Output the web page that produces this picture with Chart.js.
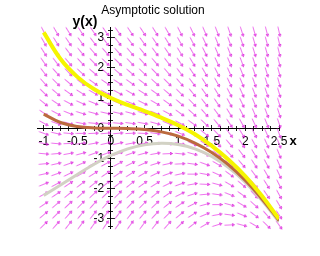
<!DOCTYPE html>
<html>
<head>
<meta charset="utf-8">
<script src="https://cdn.jsdelivr.net/npm/chart.js@4.4.1/dist/chart.umd.min.js"></script>
<style>
  html, body { margin: 0; padding: 0; background: #ffffff; }
  #wrap { width: 320px; height: 256px; }
</style>
</head>
<body>
<div id="wrap"><canvas id="dfield" width="320" height="256"></canvas></div>
<script>
// grid of the direction field (20 x 20)
const fieldX = [-1, -0.816, -0.632, -0.447, -0.263, -0.079, 0.105, 0.289, 0.474, 0.658,
  0.842, 1.026, 1.211, 1.395, 1.579, 1.763, 1.947, 2.132, 2.316, 2.5];
const fieldY = [3.2, 2.863, 2.526, 2.189, 1.853, 1.516, 1.179, 0.842, 0.505, 0.168,
  -0.168, -0.505, -0.842, -1.179, -1.516, -1.853, -2.189, -2.526, -2.863, -3.2];

// slope dy/dx of each arrow, one row per fieldY value
const fieldSlope = [
  [-4.2, -3.9, -3.6, -3.4, -3.3, -3.2, -3.2, -3.3, -3.4, -3.6, -3.9, -4.3, -4.7, -5.2, -5.7, -6.3, -7.0, -7.7, -8.6, -9.5],
  [-3.9, -3.5, -3.3, -3.1, -2.9, -2.9, -2.9, -2.9, -3.1, -3.3, -3.6, -3.9, -4.3, -4.8, -5.4, -6.0, -6.7, -7.4, -8.2, -9.1],
  [-3.5, -3.2, -2.9, -2.7, -2.6, -2.5, -2.5, -2.6, -2.7, -3.0, -3.2, -3.6, -4.0, -4.5, -5.0, -5.6, -6.3, -7.1, -7.9, -8.8],
  [-3.2, -2.9, -2.6, -2.4, -2.3, -2.2, -2.2, -2.3, -2.4, -2.6, -2.9, -3.2, -3.7, -4.1, -4.7, -5.3, -6.0, -6.7, -7.6, -8.4],
  [-2.9, -2.5, -2.3, -2.1, -1.9, -1.9, -1.9, -1.9, -2.1, -2.3, -2.6, -2.9, -3.3, -3.8, -4.3, -5.0, -5.6, -6.4, -7.2, -8.1],
  [-2.5, -2.2, -1.9, -1.7, -1.6, -1.5, -1.5, -1.6, -1.7, -2.0, -2.2, -2.6, -3.0, -3.5, -4.0, -4.6, -5.3, -6.1, -6.9, -7.8],
  [-2.2, -1.9, -1.6, -1.4, -1.3, -1.2, -1.2, -1.3, -1.4, -1.6, -1.9, -2.2, -2.7, -3.1, -3.7, -4.3, -5.0, -5.7, -6.5, -7.4],
  [-1.8, -1.5, -1.2, -1.0, -0.9, -0.9, -0.9, -0.9, -1.1, -1.3, -1.6, -1.9, -2.3, -2.8, -3.3, -4.0, -4.6, -5.4, -6.2, -7.1],
  [-1.5, -1.2, -0.9, -0.7, -0.6, -0.5, -0.5, -0.6, -0.7, -0.9, -1.2, -1.6, -2.0, -2.5, -3.0, -3.6, -4.3, -5.1, -5.9, -6.8],
  [-1.2, -0.8, -0.6, -0.4, -0.2, -0.2, -0.2, -0.3, -0.4, -0.6, -0.9, -1.2, -1.6, -2.1, -2.7, -3.3, -4.0, -4.7, -5.5, -6.4],
  [-0.8, -0.5, -0.2, 0.0, 0.1, 0.2, 0.2, 0.1, -0.1, -0.3, -0.5, -0.9, -1.3, -1.8, -2.3, -2.9, -3.6, -4.4, -5.2, -6.1],
  [-0.5, -0.2, 0.1, 0.3, 0.4, 0.5, 0.5, 0.4, 0.3, 0.1, -0.2, -0.5, -1.0, -1.4, -2.0, -2.6, -3.3, -4.0, -4.9, -5.7],
  [-0.2, 0.2, 0.4, 0.6, 0.8, 0.8, 0.8, 0.8, 0.6, 0.4, 0.1, -0.2, -0.6, -1.1, -1.6, -2.3, -2.9, -3.7, -4.5, -5.4],
  [0.2, 0.5, 0.8, 1.0, 1.1, 1.2, 1.2, 1.1, 1.0, 0.7, 0.5, 0.1, -0.3, -0.8, -1.3, -1.9, -2.6, -3.4, -4.2, -5.1],
  [0.5, 0.8, 1.1, 1.3, 1.4, 1.5, 1.5, 1.4, 1.3, 1.1, 0.8, 0.5, 0.0, -0.4, -1.0, -1.6, -2.3, -3.0, -3.8, -4.7],
  [0.9, 1.2, 1.5, 1.7, 1.8, 1.8, 1.8, 1.8, 1.6, 1.4, 1.1, 0.8, 0.4, -0.1, -0.6, -1.3, -1.9, -2.7, -3.5, -4.4],
  [1.2, 1.5, 1.8, 2.0, 2.1, 2.2, 2.2, 2.1, 2.0, 1.8, 1.5, 1.1, 0.7, 0.2, -0.3, -0.9, -1.6, -2.4, -3.2, -4.1],
  [1.5, 1.9, 2.1, 2.3, 2.5, 2.5, 2.5, 2.4, 2.3, 2.1, 1.8, 1.5, 1.1, 0.6, 0.0, -0.6, -1.3, -2.0, -2.8, -3.7],
  [1.9, 2.2, 2.5, 2.7, 2.8, 2.9, 2.9, 2.8, 2.6, 2.4, 2.2, 1.8, 1.4, 0.9, 0.4, -0.3, -0.9, -1.7, -2.5, -3.4],
  [2.2, 2.5, 2.8, 3.0, 3.1, 3.2, 3.2, 3.1, 3.0, 2.8, 2.5, 2.2, 1.7, 1.3, 0.7, 0.1, -0.6, -1.3, -2.2, -3.1]
];

// solution curves
const curveX = [-1, -0.75, -0.5, -0.25, 0, 0.25, 0.5, 0.75, 1, 1.25, 1.5, 1.75, 2, 2.25, 2.5];
const yellowY = [3.17, 2.29, 1.70, 1.29, 1.0, 0.77, 0.57, 0.35, 0.10, -0.20, -0.58, -1.04, -1.59, -2.25, -3.0];
const brownY = [0.47, 0.19, 0.06, 0.01, 0.0, -0.01, -0.04, -0.12, -0.26, -0.49, -0.80, -1.21, -1.73, -2.35, -3.05];
const grayY = [-2.22, -1.88, -1.53, -1.19, -0.9, -0.68, -0.55, -0.5, -0.54, -0.68, -0.93, -1.3, -1.79, -2.4, -3.1];

// tick labels
const xLabels = [-1, -0.5, 0, 0.5, 1, 1.5, 2, 2.5];
const yLabels = [-3, -2, -1, 0, 1, 2, 3];

// small arrow used as point style
function makeArrow() {
  const c = document.createElement("canvas");
  c.width = 11;
  c.height = 5;
  const g = c.getContext("2d");
  g.lineWidth = 1;
  g.strokeStyle = "rgba(232, 70, 232, 0.75)";
  g.beginPath();
  g.moveTo(0.5, 2.5);
  g.lineTo(9.5, 2.5);
  g.stroke();
  g.strokeStyle = "rgba(215, 20, 215, 0.9)";
  g.beginPath();
  g.moveTo(8, 1.3);
  g.lineTo(10.5, 2.5);
  g.lineTo(8, 3.7);
  g.stroke();
  return c;
}
const arrow = makeArrow();

const arrowPoints = [];
fieldY.forEach((y, j) => {
  fieldX.forEach((x, i) => {
    arrowPoints.push({ x: x, y: y, s: fieldSlope[j][i] });
  });
});

const toPts = (ys) => curveX.map((x, i) => ({ x: x, y: ys[i] }));

const tickFont = { family: "'Liberation Sans', Arial, sans-serif", size: 12 };

function axisX(step, len, labels) {
  return {
    type: "linear",
    axis: "x",
    min: -1.1,
    max: 2.5,
    position: { y: 0 },
    border: { display: labels, color: "#000000", width: 1 },
    grid: { drawOnChartArea: false, drawTicks: true, tickLength: len, tickColor: "#222222" },
    ticks: {
      stepSize: step,
      includeBounds: false,
      autoSkip: false,
      maxRotation: 0,
      padding: 4,
      color: "#000000",
      font: tickFont,
      callback: (v) => (labels && xLabels.some((t) => Math.abs(t - v) < 1e-6) ? String(v) : ""),
    },
  };
}

function axisY(step, len, labels) {
  return {
    type: "linear",
    axis: "y",
    min: -3.3,
    max: 3.35,
    position: { x: 0 },
    border: { display: labels, color: "#000000", width: 1 },
    grid: { drawOnChartArea: false, drawTicks: true, tickLength: len, tickColor: "#222222" },
    ticks: {
      stepSize: step,
      includeBounds: false,
      autoSkip: false,
      padding: 4,
      color: "#000000",
      font: tickFont,
      // labels of a centred y axis are not pushed off the line, so pad them
      callback: (v) => (labels && yLabels.some((t) => Math.abs(t - v) < 1e-6) ? String(v) + "  " : ""),
    },
  };
}

// title and axis names
const textPlugin = {
  id: "texts",
  afterDraw(chart) {
    const ctx = chart.ctx;
    const sx = chart.scales.x;
    const sy = chart.scales.y;
    ctx.save();
    ctx.fillStyle = "#000000";
    ctx.textBaseline = "middle";
    ctx.textAlign = "center";
    ctx.font = "12px 'Liberation Sans', Arial, sans-serif";
    ctx.fillText("Asymptotic solution", 153, 11);
    ctx.font = "bold 14px 'Liberation Sans', Arial, sans-serif";
    ctx.fillText("y(x)", sx.getPixelForValue(0) - 26, 22);
    ctx.font = "bold 13px 'Liberation Sans', Arial, sans-serif";
    ctx.fillText("x", sx.getPixelForValue(2.5) + 14, sy.getPixelForValue(0) + 13);
    ctx.restore();
  },
};

new Chart(document.getElementById("dfield"), {
  type: "scatter",
  data: {
    datasets: [
      {
        type: "line",
        label: "y(0)=1",
        data: toPts(yellowY),
        borderColor: "#f5f500",
        borderWidth: 4,
        pointRadius: 0,
        tension: 0.4,
        fill: false,
      },
      {
        type: "line",
        label: "y(0)=0",
        data: toPts(brownY),
        borderColor: "#bb6a3e",
        borderWidth: 3,
        pointRadius: 0,
        tension: 0.4,
        fill: false,
      },
      {
        type: "line",
        label: "y(0)=-1",
        data: toPts(grayY),
        borderColor: "#d2d2c4",
        borderWidth: 3,
        pointRadius: 0,
        tension: 0.4,
        fill: false,
      },
      {
        label: "field",
        data: arrowPoints,
        pointStyle: arrow,
        clip: false,
        rotation: (ctx) => {
          const raw = ctx.raw;
          if (!raw) return 0;
          const sx = ctx.chart.scales.x;
          const sy = ctx.chart.scales.y;
          const kx = Math.abs(sx.getPixelForValue(1) - sx.getPixelForValue(0));
          const ky = Math.abs(sy.getPixelForValue(1) - sy.getPixelForValue(0));
          return (Math.atan2(-raw.s * ky, kx) * 180) / Math.PI;
        },
      },
    ],
  },
  options: {
    responsive: false,
    animation: false,
    layout: { padding: { left: 37, right: 41, top: 27, bottom: 28 } },
    plugins: {
      legend: { display: false },
      tooltip: { enabled: false },
      title: { display: false },
    },
    scales: {
      x: axisX(0.125, 2, true),
      x2: axisX(0.125, -2, false),
      x3: axisX(0.5, 3, false),
      x4: axisX(0.5, -3, false),
      y: axisY(0.25, 2, true),
      y2: axisY(0.25, -2, false),
      y3: axisY(1, 4, false),
      y4: axisY(1, -4, false),
    },
  },
  plugins: [textPlugin],
});
</script>
</body>
</html>
